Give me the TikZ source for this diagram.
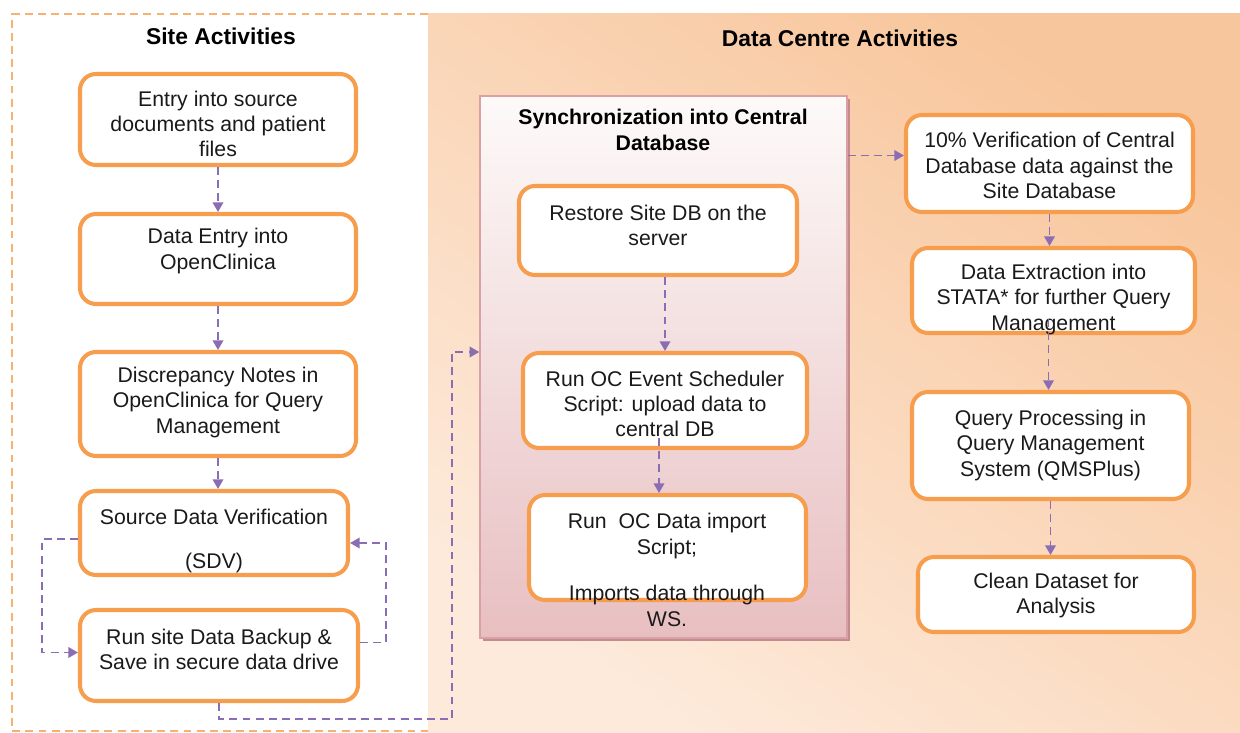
\documentclass[tikz,border=0pt]{standalone}
\usepackage{fontspec}
\setmainfont{Liberation Sans}
\usetikzlibrary{arrows.meta,calc}
\definecolor{boxor}{HTML}{F79E4E}
\definecolor{conn}{HTML}{8A6DB4}
\definecolor{sitedash}{HTML}{F5B272}
\definecolor{dcdark}{HTML}{F8C69C}
\definecolor{dclight}{HTML}{FDEADB}
\definecolor{synctop}{HTML}{FDFAF9}
\definecolor{syncbot}{HTML}{E8BFC1}
\definecolor{syncborder}{HTML}{D9A0A5}
\definecolor{syncshadow}{HTML}{C48A8E}
\definecolor{txt}{HTML}{1A1A1A}
\tikzset{
  sz/.style 2 args={minimum width=#1*0.02cm, minimum height=#2*0.02cm},
  box/.style={draw=boxor, line width=2.3pt, rounded corners=0.32cm, fill=white, inner sep=0pt},
  boxtext/.style={align=center, font=\fontsize{12.1}{14.3}\selectfont, text=txt, inner sep=0pt},
  flow/.style={draw=conn, line width=1.1pt, dash pattern=on 4.5pt off 3pt,
    -{Triangle[width=6pt,length=5.5pt]}},
  ttl/.style={font=\bfseries\fontsize{13}{15.6}\selectfont, text=black, inner sep=0pt},
}
\begin{document}
\begin{tikzpicture}[x=0.02cm,y=-0.02cm]
\useasboundingbox (0,0) rectangle (1240,733);
\fill[white] (0,0) rectangle (1240,733);
% site area
\draw[sitedash, line width=0.9pt, dash pattern=on 4.5pt off 3pt] (428,14) -- (12,14) -- (12,731) -- (428,731);
% data centre area
\shade[top color=dcdark, bottom color=dclight, shading angle=-35] (428,14) rectangle (1240,733);

% titles
\node[ttl] (tsite) at (221,36) {Site Activities};
\node[ttl] (tdc) at (840,38) {Data Centre Activities};

% sync container
\fill[syncshadow] (483,99) rectangle (850,641);
\node[sz={367}{542}, draw=syncborder, line width=0.8pt, top color=synctop, bottom color=syncbot, inner sep=0pt] (sync) at (663.5,367) {};
\node[font=\bfseries\fontsize{12.1}{14.8}\selectfont, align=center, inner sep=0pt] (tsync) at (663,130) {Synchronization into Central\\Database};

% site boxes
\node[box, sz={276}{91}] (b1) at (218,119.5) {};
\node[boxtext] (b1t) at (218,124) {Entry into source\\documents and patient\\files};
\node[box, sz={276}{90}] (b2) at (218,259) {};
\node[boxtext] (b2t) at (218,251) {Data Entry into\\OpenClinica};
\node[box, sz={276}{104}] (b3) at (218,404) {};
\node[boxtext] (b3t) at (218,402.5) {Discrepancy Notes in\\OpenClinica for Query\\Management};
\node[box, sz={268}{84}] (b4) at (214,533) {};
\node[boxtext] (b4t) at (214,541) {Source Data Verification\\[11.3pt](SDV)};
\node[box, sz={278}{91}] (b5) at (219,655.5) {};
\node[boxtext] (b5t) at (219,649) {Run site Data Backup \&\\Save in secure data drive};

% sync boxes
\node[box, sz={278}{89}] (rs) at (658,230.5) {};
\node[boxtext] (rst) at (658,225) {Restore Site DB on the\\server};
\node[box, sz={284}{95}] (ev) at (665,400.5) {};
\node[boxtext] (evt) at (665,404) {Run OC Event Scheduler\\Script: upload data to\\central DB};
\node[box, sz={277}{105}] (imp) at (667.5,547.5) {};
\node[boxtext, font=\fontsize{12.1}{14.8}\selectfont] (impt) at (667,570) {Run\ \ OC Data import\\Script;\\[11.5pt]Imports data through\\WS.};

% data centre boxes
\node[box, sz={287}{97}] (ver) at (1049.5,163.5) {};
\node[boxtext] (vert) at (1049.5,165.5) {10\% Verification of Central\\Database data against the\\Site Database};
\node[box, sz={283}{85}] (ext) at (1053.5,290.5) {};
\node[boxtext] (extt) at (1053.5,299.5) {Data Extraction into\\STATA* for further Query\\Management};
\node[box, sz={277}{107}] (qp) at (1050.5,445.5) {};
\node[boxtext] (qpt) at (1050.5,445.5) {Query Processing in\\Query Management\\System (QMSPlus)};
\node[box, sz={276}{75}] (cl) at (1056,594.5) {};
\node[boxtext] (clt) at (1056,595.5) {Clean Dataset for\\Analysis};

% connectors
\draw[flow] (b1) -- (b2);
\draw[flow] (b2) -- (b3);
\draw[flow] (b3.south) -- (b3.south |- b4.north);
\draw[flow] ($(b4.west)+(0,6)$) -- ++(-36,0) |- ($(b5.west)+(0,-3)$);
\draw[flow] ($(b5.east)+(0,-13)$) -- ++(26,0) |- ($(b4.east)+(0,10)$);
\coordinate (c1) at (452,719);
\draw[flow] (b5.south) |- (c1) |- ($(sync.west)+(0,-15)$);
\draw[flow] (rs.south -| ev.north) -- (ev.north);
\coordinate (e1) at ($(ev.south)+(-6,-12)$);
\draw[flow] (e1) -- (e1 |- imp.north);
\coordinate (e3) at ($(ver.west)+(0,-8)$);
\draw[flow] (e3 -| sync.east) -- (e3);
\draw[flow] (ver.south) -- (ver.south |- ext.north);
\coordinate (e2) at ($(ext.south)+(-5,-16)$);
\draw[flow] (e2) -- (e2 |- qp.north);
\draw[flow] (qp.south) -- (qp.south |- cl.north);
\end{tikzpicture}
\end{document}
